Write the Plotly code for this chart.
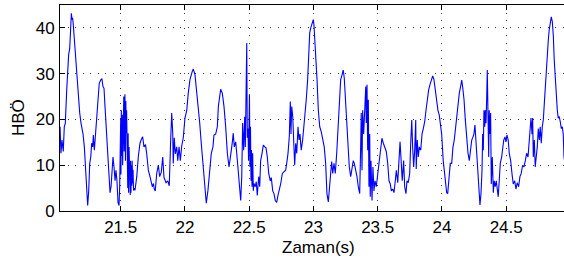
import plotly.graph_objects as go

# Time (s) and HBÖ values
time_s = [
    21.028, 21.035, 21.043, 21.053, 21.061, 21.069, 21.080, 21.088, 21.095, 21.103,
    21.111, 21.116, 21.121, 21.126, 21.131, 21.142, 21.152, 21.162, 21.173, 21.181,
    21.191, 21.199, 21.207, 21.217, 21.225, 21.235, 21.243, 21.251, 21.259, 21.267,
    21.274, 21.282, 21.287, 21.295, 21.302, 21.310, 21.318, 21.326, 21.333, 21.344,
    21.354, 21.362, 21.370, 21.378, 21.386, 21.393, 21.401, 21.409, 21.417, 21.425,
    21.432, 21.440, 21.448, 21.456, 21.463, 21.471, 21.479, 21.487, 21.492,
    21.497, 21.500, 21.502, 21.505, 21.509, 21.512, 21.515, 21.518, 21.521, 21.524,
    21.527, 21.530, 21.533, 21.537, 21.540, 21.543, 21.546, 21.549, 21.552, 21.555,
    21.558, 21.561, 21.565, 21.568, 21.571, 21.574, 21.577, 21.580, 21.583, 21.586,
    21.589, 21.593, 21.596, 21.600, 21.606, 21.611,
    21.625, 21.637, 21.650, 21.663, 21.671, 21.681, 21.693, 21.702, 21.715, 21.728,
    21.740, 21.746, 21.755, 21.761, 21.769, 21.780, 21.793, 21.803, 21.816, 21.827,
    21.837, 21.853, 21.866, 21.878, 21.889, 21.897, 21.905, 21.909, 21.917, 21.925,
    21.936, 21.944, 21.954, 21.964, 21.975, 21.987, 22.000, 22.014, 22.026, 22.039,
    22.057, 22.065, 22.078, 22.088, 22.102, 22.115, 22.127, 22.140, 22.154, 22.166,
    22.179, 22.193, 22.205, 22.218, 22.226, 22.239, 22.252, 22.260, 22.270, 22.278,
    22.291, 22.304, 22.317, 22.330, 22.343, 22.351, 22.361, 22.369, 22.376, 22.384,
    22.395, 22.403, 22.413, 22.421, 22.428, 22.434, 22.442, 22.449, 22.457, 22.465,
    22.470, 22.475, 22.481, 22.485, 22.491, 22.495, 22.498, 22.502, 22.506, 22.510,
    22.514, 22.518, 22.522, 22.527, 22.532, 22.537, 22.547, 22.555, 22.563, 22.574,
    22.582, 22.589, 22.600, 22.610, 22.621, 22.631, 22.641, 22.652, 22.664, 22.672,
    22.683, 22.693, 22.703, 22.714, 22.724, 22.734, 22.745, 22.758, 22.771, 22.784,
    22.794, 22.802, 22.812, 22.820, 22.825, 22.831, 22.839, 22.846, 22.854, 22.862,
    22.870, 22.880, 22.888, 22.895, 22.905, 22.916, 22.924, 22.934, 22.944, 22.955,
    22.963, 22.971, 22.979, 22.989, 22.999, 23.004, 23.010, 23.020, 23.028, 23.038,
    23.049, 23.061, 23.074, 23.084, 23.095, 23.105, 23.116, 23.123, 23.134, 23.142,
    23.150, 23.160, 23.170, 23.181, 23.191, 23.201, 23.212, 23.222, 23.232, 23.240,
    23.248, 23.259, 23.269, 23.279, 23.290, 23.300, 23.310, 23.318, 23.329, 23.339,
    23.349, 23.360, 23.368, 23.372, 23.378, 23.383, 23.391, 23.399, 23.407, 23.411,
    23.417, 23.422, 23.427, 23.432, 23.438, 23.442, 23.448, 23.456, 23.463, 23.471,
    23.479, 23.489, 23.500, 23.510, 23.520, 23.533, 23.544, 23.554, 23.567, 23.578,
    23.588, 23.598, 23.606, 23.617, 23.627, 23.637, 23.645, 23.656, 23.666, 23.674,
    23.681, 23.691, 23.702, 23.710, 23.720, 23.728, 23.738, 23.749, 23.757, 23.765,
    23.772, 23.780, 23.788, 23.796, 23.800, 23.808, 23.816, 23.824, 23.835, 23.845,
    23.855, 23.866, 23.876, 23.886, 23.897, 23.907, 23.917, 23.928, 23.938, 23.948,
    23.959, 23.969, 23.979, 23.990, 23.998, 24.010, 24.024, 24.037, 24.045, 24.055,
    24.065, 24.076, 24.086, 24.096, 24.107, 24.115, 24.125, 24.135, 24.146, 24.154,
    24.161, 24.172, 24.182, 24.193, 24.203, 24.213, 24.221, 24.232, 24.242, 24.249,
    24.257, 24.265, 24.273, 24.281, 24.288, 24.296, 24.304, 24.312, 24.317, 24.322,
    24.327, 24.333, 24.337, 24.343, 24.348, 24.353, 24.358, 24.364, 24.368, 24.374,
    24.379, 24.384, 24.392, 24.400, 24.407, 24.415, 24.423, 24.431, 24.438, 24.446,
    24.454, 24.465, 24.473, 24.481, 24.491, 24.498, 24.506, 24.516, 24.524, 24.535,
    24.545, 24.555, 24.566, 24.576, 24.586, 24.597, 24.607, 24.617, 24.628, 24.638,
    24.649, 24.659, 24.670, 24.677, 24.685, 24.693, 24.701, 24.706, 24.711, 24.719,
    24.726, 24.734, 24.742, 24.750, 24.758, 24.765, 24.773, 24.781, 24.789, 24.797,
    24.804, 24.812, 24.820, 24.828, 24.835, 24.843, 24.851, 24.859, 24.867, 24.874,
    24.882, 24.890, 24.898, 24.905, 24.913, 24.921, 24.929, 24.937, 24.944, 24.950,
    24.960, 24.980, 25.000,
]

hbo = [
    18.4, 12.6, 15.5, 13.0, 18.4, 19.2, 26.5, 33.0, 34.2, 35.4,
    41.8, 43.2, 41.8, 42.2, 40.7, 36.3, 31.6, 26.8, 23.6, 21.4,
    19.2, 18.0, 16.8, 14.0, 10.4, 4.4, 1.2, 4.4, 10.4, 11.8,
    14.8, 14.0, 16.6, 13.3, 16.2, 19.2, 22.0, 26.2, 27.9, 28.6,
    28.9, 27.2, 26.8, 22.8, 18.4, 14.0, 11.8, 7.5, 4.0, 5.3,
    8.2, 11.8, 9.6, 6.6, 8.9, 6.6, 1.9, 1.2, 5.3,
    14.0, 20.0, 8.0, 22.0, 12.0, 21.0, 10.0, 23.0, 15.0, 25.0,
    13.0, 21.0, 25.5, 11.0, 24.0, 17.0, 22.0, 7.0, 19.0, 5.0,
    17.0, 4.0, 14.0, 6.0, 12.0, 3.5, 11.0, 4.0, 10.0, 5.5,
    11.0, 6.0, 9.0, 4.5, 5.0, 4.5,
    7.5, 11.8, 14.8, 15.8, 16.2, 14.0, 14.5, 12.6, 8.9, 7.5,
    6.0, 5.3, 6.0, 4.8, 4.4, 8.2, 10.0, 7.5, 8.5, 11.8,
    7.3, 6.2, 6.6, 5.5, 15.5, 21.4, 17.0, 10.4, 16.0, 12.5,
    14.0, 11.0, 14.0, 11.0, 14.2, 16.0, 20.3, 22.0, 25.8, 28.7,
    30.5, 31.0, 29.8, 27.2, 23.6, 19.2, 14.8, 10.4, 5.3, 1.7,
    4.5, 9.6, 12.6, 14.0, 16.6, 16.8, 18.4, 22.8, 25.0, 26.6,
    25.7, 22.8, 18.4, 12.6, 9.6, 11.8, 13.3, 15.1, 17.0, 14.0,
    15.1, 12.6, 9.6, 6.0, 3.8, 2.3, 7.5, 19.2, 13.3, 20.6,
    14.0, 22.0, 36.7, 16.0, 18.0, 11.0, 22.0, 25.5, 9.6, 18.4,
    6.6, 13.3, 5.3, 12.6, 4.4, 6.0, 5.3, 6.4, 3.4, 7.5,
    5.3, 11.0, 12.6, 14.4, 14.0, 13.8, 11.8, 8.2, 6.6, 7.3,
    4.4, 3.8, 2.3, 1.9, 3.4, 4.4, 5.9, 8.2, 8.5, 8.9,
    10.8, 12.6, 16.2, 23.9, 16.8, 22.8, 20.6, 14.8, 10.0, 14.8,
    12.6, 18.4, 15.5, 16.8, 13.3, 15.5, 17.7, 20.6, 24.3, 28.7,
    34.5, 38.9, 40.0, 40.7, 41.8, 40.7, 38.2, 33.0, 28.7, 22.0,
    18.4, 17.3, 15.5, 14.0, 10.4, 3.8, 2.0, 5.3, 8.2, 10.8,
    8.2, 10.4, 8.2, 12.6, 18.4, 25.0, 28.7, 29.7, 30.8, 29.0,
    25.0, 18.4, 14.0, 9.6, 7.5, 8.9, 11.0, 10.4, 8.9, 7.5,
    5.3, 3.8, 14.8, 21.4, 8.9, 22.0, 16.8, 24.3, 27.2, 19.2,
    27.6, 13.3, 24.3, 5.3, 16.8, 3.1, 11.0, 2.3, 9.6, 4.4,
    6.6, 5.3, 8.2, 10.4, 14.0, 15.9, 14.8, 14.0, 13.0, 10.4,
    6.6, 5.9, 4.4, 4.8, 4.0, 6.6, 8.9, 6.2, 11.8, 15.1,
    11.8, 6.6, 11.0, 5.3, 3.8, 6.6, 6.2, 8.2, 14.8, 19.9,
    14.0, 9.6, 13.3, 19.9, 9.2, 15.5, 11.8, 14.0, 13.3, 16.8,
    18.0, 19.5, 22.0, 24.3, 26.5, 27.6, 28.3, 29.5, 28.7, 26.5,
    24.3, 22.0, 21.0, 18.4, 16.8, 11.0, 6.6, 4.0, 3.8, 7.5,
    10.4, 10.4, 14.0, 15.5, 18.4, 21.4, 23.6, 25.7, 27.3, 28.6,
    27.2, 24.3, 19.9, 15.5, 12.6, 11.0, 12.6, 15.5, 16.2, 16.8,
    18.8, 15.5, 12.6, 8.2, 5.3, 1.3, 3.8, 8.9, 16.8, 13.3,
    22.0, 18.4, 22.0, 19.2, 24.3, 30.8, 22.0, 11.8, 22.0, 16.8,
    21.4, 5.9, 11.8, 4.0, 6.6, 5.3, 6.6, 4.0, 3.1, 6.6,
    10.4, 11.8, 14.0, 15.5, 16.2, 15.1, 16.6, 15.5, 12.6, 11.0,
    8.2, 5.9, 6.6, 4.8, 6.2, 5.3, 7.5, 8.2, 10.0, 9.6,
    11.0, 12.6, 11.8, 14.8, 16.6, 20.3, 16.8, 20.3, 11.8, 15.5,
    9.6, 11.8, 14.0, 18.0, 15.5, 18.4, 14.8, 18.4, 19.9, 23.6,
    27.2, 31.6, 34.5, 37.4, 39.6, 41.1, 42.4, 41.4, 38.2, 33.0,
    28.7, 25.0, 22.0, 20.3, 20.6, 19.5, 18.0, 18.4, 16.8, 11.8,
    10.0, 12.0, 14.0,
]
assert len(time_s) == len(hbo)

x_ticks = [21.5, 22, 22.5, 23, 23.5, 24, 24.5]
x_ticklabels = ["21.5", "22", "22.5", "23", "23.5", "24", "24.5"]
y_ticks = [0, 10, 20, 30, 40]
y_ticklabels = ["0", "10", "20", "30", "40"]

FONT = "Liberation Sans, Arial, Helvetica, sans-serif"

fig = go.Figure()
fig.add_trace(go.Scatter(
    x=time_s, y=hbo, mode="lines",
    line=dict(color="#0000ff", width=1.1),
    showlegend=False, hoverinfo="skip",
))

axis_common = dict(
    showline=True, linecolor="black", linewidth=1,
    ticks="inside", ticklen=5, tickcolor="black", tickwidth=1,
    showgrid=True, gridcolor="#333333", gridwidth=1, griddash="1px,6.5px",
    zeroline=False,
    tickfont=dict(family=FONT, size=17, color="black"),
)

fig.update_xaxes(
    **axis_common,
    range=[21.0276, 24.950],
    tickvals=x_ticks, ticktext=x_ticklabels,
    mirror="ticks",
    ticklabelstandoff=1,
)
fig.update_yaxes(
    **axis_common,
    range=[0, 45],
    tickvals=y_ticks, ticktext=y_ticklabels,
    mirror=False,
    ticklabelstandoff=1,
)

fig.update_layout(
    width=564, height=261,
    margin=dict(l=60, r=0, t=5, b=50, pad=0),
    paper_bgcolor="white", plot_bgcolor="white",
    font=dict(family=FONT, size=17, color="black"),
    annotations=[
        dict(text="Zaman(s)", xref="paper", yref="paper", x=0.512, y=-0.12,
             xanchor="center", yanchor="top", showarrow=False,
             font=dict(family=FONT, size=17, color="black")),
        dict(text="HBÖ", xref="paper", yref="paper", x=-0.0823, y=0.454,
             xanchor="center", yanchor="middle", textangle=-90, showarrow=False,
             font=dict(family=FONT, size=17, color="black")),
    ],
)

fig.write_html(
    "out.html",
    config={"displayModeBar": False},
    post_script="document.body.style.margin='0';document.body.style.overflow='hidden';",
)
